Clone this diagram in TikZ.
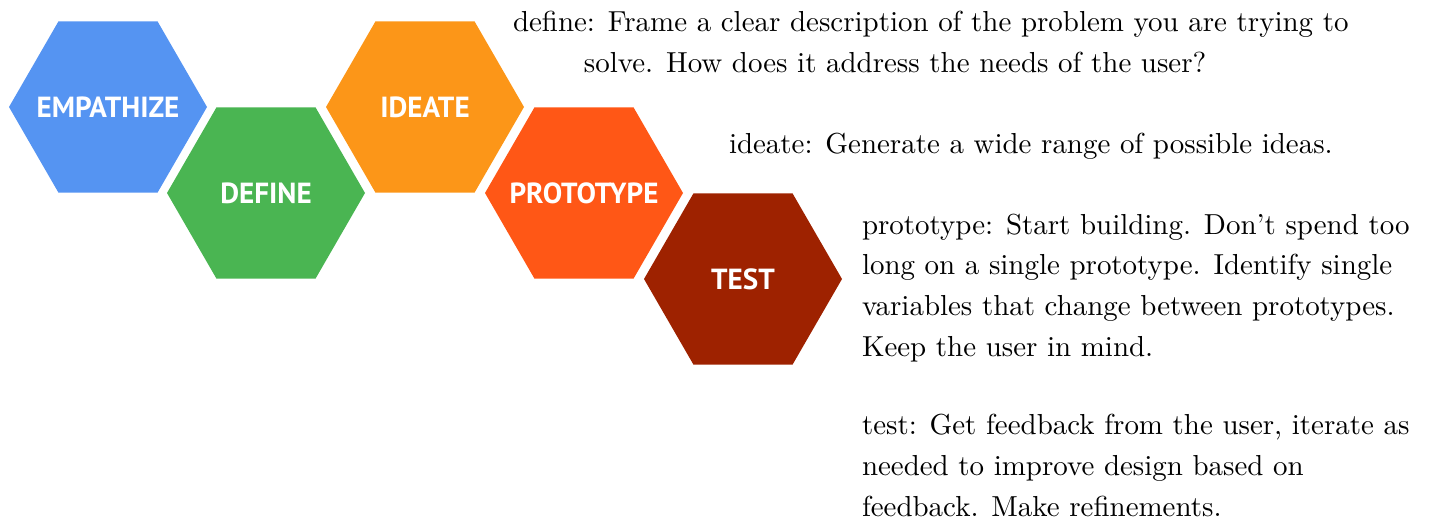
\documentclass[tikz,border=0pt]{standalone}
\usepackage{fontspec}
\newfontfamily\hexfont{PT Sans}
\definecolor{cEmp}{RGB}{85,148,242}
\definecolor{cDef}{RGB}{74,181,82}
\definecolor{cIde}{RGB}{252,150,24}
\definecolor{cPro}{RGB}{255,87,22}
\definecolor{cTst}{RGB}{158,34,0}
\tikzset{
  hexlabel/.style={inner sep=0pt, outer sep=0pt, text=white,
    font=\hexfont\bfseries\fontsize{9.8}{11}\selectfont},
  desc/.style={align=left, inner sep=0pt, outer sep=0pt, anchor=base west,
    font=\fontsize{9.75}{13.7}\selectfont}
}
\newcommand{\hexfill}[2]{%
  \fill[#2] ($(#1)+(-99,0)$) -- ($(#1)+(-49.5,-85.7)$) -- ($(#1)+(49.5,-85.7)$)
    -- ($(#1)+(99,0)$) -- ($(#1)+(49.5,85.7)$) -- ($(#1)+(-49.5,85.7)$) -- cycle;}
\usetikzlibrary{calc}
\begin{document}
\begin{tikzpicture}[x=0.011834cm, y=-0.011834cm]
\useasboundingbox (0,0) rectangle (1429,521);
\coordinate (cemp) at (108,107);
\coordinate (cdef) at (266,193);
\coordinate (cide) at (425,107);
\coordinate (cpro) at (584,193);
\coordinate (ctst) at (743,279);
\hexfill{cemp}{cEmp}
\hexfill{cdef}{cDef}
\hexfill{cide}{cIde}
\hexfill{cpro}{cPro}
\hexfill{ctst}{cTst}
\node[hexlabel] (emp) at (cemp) {EMPATHIZE};
\node[hexlabel] (def) at (cdef) {DEFINE};
\node[hexlabel] (ide) at (cide) {IDEATE};
\node[hexlabel] (pro) at (cpro) {PROTOTYPE};
\node[hexlabel] (tst) at (ctst) {TEST};
\node[desc] (tdef) at (513,72) {define: Frame a clear description of the problem you are trying to\\\hspace*{23.9pt}solve. How does it address the needs of the user?};
\node[desc] (tide) at (729,153) {ideate: Generate a wide range of possible ideas.};
\node[desc] (tpro) at (862,356) {prototype: Start building. Don't spend too\\long on a single prototype. Identify single\\variables that change between prototypes.\\Keep the user in mind.};
\node[desc] (ttst) at (862,516) {test: Get feedback from the user, iterate as\\needed to improve design based on\\feedback. Make refinements.};
\end{tikzpicture}
\end{document}
